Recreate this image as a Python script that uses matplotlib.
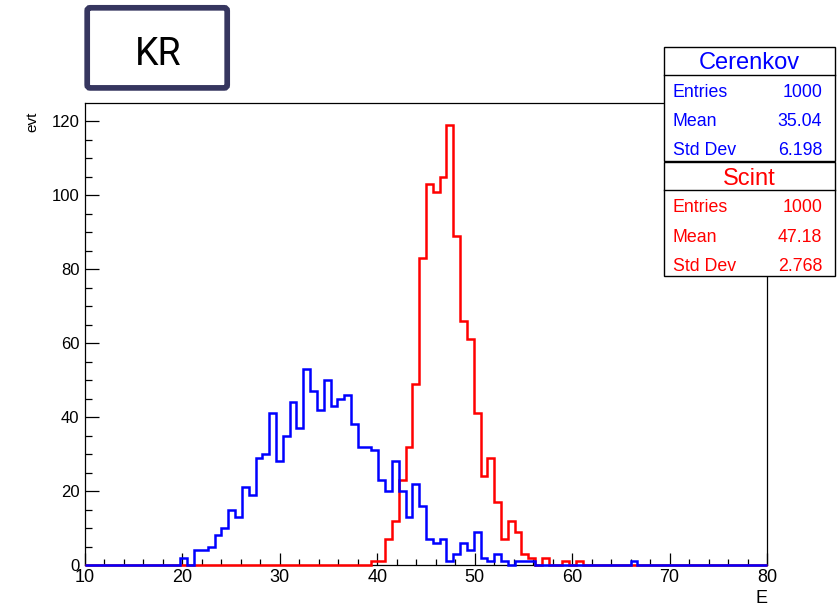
import matplotlib
matplotlib.use('Agg')
import matplotlib.pyplot as plt
import numpy as np
from matplotlib.patches import Rectangle, FancyBboxPatch
from matplotlib.transforms import IdentityTransform
from matplotlib.ticker import MultipleLocator

# ---------------- data ----------------
nbins, xmin, xmax = 100, 10.0, 80.0

# Cerenkov counts per bin (bin width 0.7), bins 0..99
cerenkov = [0]*14 + [
    2, 0, 4, 4, 5, 8, 10, 15, 13, 21,        # bins 14-23
    19, 29, 30, 41, 28, 35, 44, 37, 53, 47,  # bins 24-33
    42, 50, 43, 45, 46, 38, 32, 32, 31, 23,  # bins 34-43
    20, 28, 20, 13, 22, 16, 7, 6, 7, 1,      # bins 44-53
    3, 6, 4, 9, 2, 1, 3, 1, 0, 1,            # bins 54-63
    1, 1, 0, 0, 0, 0, 0, 0, 0, 0,            # bins 64-73
    0, 0, 0, 0, 0, 0, 1,                     # bins 74-80
] + [0]*19

# Scint counts per bin, bins 0..99
scint = [0]*42 + [
    1, 1, 7, 12, 23, 32, 49, 83, 103, 101,   # bins 42-51
    105, 119, 89, 66, 61, 41, 24, 29, 17, 7, # bins 52-61
    12, 9, 3, 2, 0, 2, 0, 0, 1, 0,           # bins 62-71
    1,                                       # bin 72
] + [0]*27

cer_stats = [("Entries", "1000"), ("Mean", "35.04"), ("Std Dev", "6.198")]
sci_stats = [("Entries", "1000"), ("Mean", "47.18"), ("Std Dev", "2.768")]

x_title, y_title, canvas_title = "E", "evt", "KR"

# ---------------- figure ----------------
plt.rcParams['font.family'] = ['Liberation Sans', 'DejaVu Sans']

W, H = 838, 608
fig = plt.figure(figsize=(W/100, H/100), dpi=100)
fig.patch.set_facecolor('white')

ax = fig.add_axes([85/W, 1-565/H, (767-85)/W, (565-103)/H])

edges = np.linspace(xmin, xmax, nbins+1)
ax.stairs(scint, edges, color='#ff0000', lw=1.8, zorder=3, clip_on=False)
ax.stairs(cerenkov, edges, color='#0000ff', lw=1.8, zorder=4, clip_on=False)

ax.set_xlim(xmin, xmax)
ax.set_ylim(0, 1.05*max(max(cerenkov), max(scint)))

ax.xaxis.set_major_locator(MultipleLocator(10))
ax.xaxis.set_minor_locator(MultipleLocator(2))
ax.yaxis.set_major_locator(MultipleLocator(20))
ax.yaxis.set_minor_locator(MultipleLocator(5))
ax.tick_params(which='both', direction='in', top=False, right=False, color='black')
ax.tick_params(axis='x', which='major', length=9, width=0.9, labelsize=13, pad=3)
ax.tick_params(axis='x', which='minor', length=4.5, width=0.9)
ax.tick_params(axis='y', which='major', length=10, width=0.9, labelsize=12, pad=4)
ax.tick_params(axis='y', which='minor', length=5, width=0.9)
for s in ax.spines.values():
    s.set_linewidth(0.9)
    s.set_color('black')

# axis titles
fig.text(767/W, 1-603/H, x_title, ha='right', va='baseline', fontsize=13)
fig.text(32/W, 1-112/H, y_title, ha='center', va='top', rotation=90, fontsize=11)

# canvas title box
ident = IdentityTransform()
kr_box = FancyBboxPatch((87.2, H-87.9), 140, 80.1,
                        boxstyle="round,pad=0,rounding_size=3",
                        linewidth=4.1, edgecolor='#36365f', facecolor='white',
                        transform=ident, zorder=5)
fig.add_artist(kr_box)
fig.text(158/W, 1-65/H, canvas_title, ha='center', va='baseline',
         fontsize=27, family=['Roboto', 'DejaVu Sans'], color='black', zorder=6)

# stats boxes
def stats_box(top, bottom, sep, title, title_base, rows, row_bases, color):
    x0, x1 = 663.5, 834.5
    rect = Rectangle((x0, H-bottom), x1-x0, bottom-top, linewidth=1.0,
                     edgecolor='black', facecolor='white', transform=ident, zorder=5)
    fig.add_artist(rect)
    fig.add_artist(plt.Line2D([x0, x1], [H-sep, H-sep], color='black', lw=1.0,
                              transform=ident, zorder=6))
    fig.text((x0+x1)/2/W, 1-title_base/H, title, ha='center', va='baseline',
             fontsize=17, color=color, zorder=7)
    for (k, v), yb in zip(rows, row_bases):
        fig.text(672.5/W, 1-yb/H, k, ha='left', va='baseline', fontsize=12.8,
                 color=color, zorder=7)
        fig.text(822/W, 1-yb/H, v, ha='right', va='baseline', fontsize=12.8,
                 color=color, zorder=7)

stats_box(46.5, 160.5, 74.5, "Cerenkov", 69, cer_stats, [97, 126.5, 155.5], '#0000ff')
stats_box(162, 275.5, 190, "Scint", 185, sci_stats, [212, 241.5, 271], '#ff0000')

fig.savefig('out.png', dpi=100, facecolor='white')
